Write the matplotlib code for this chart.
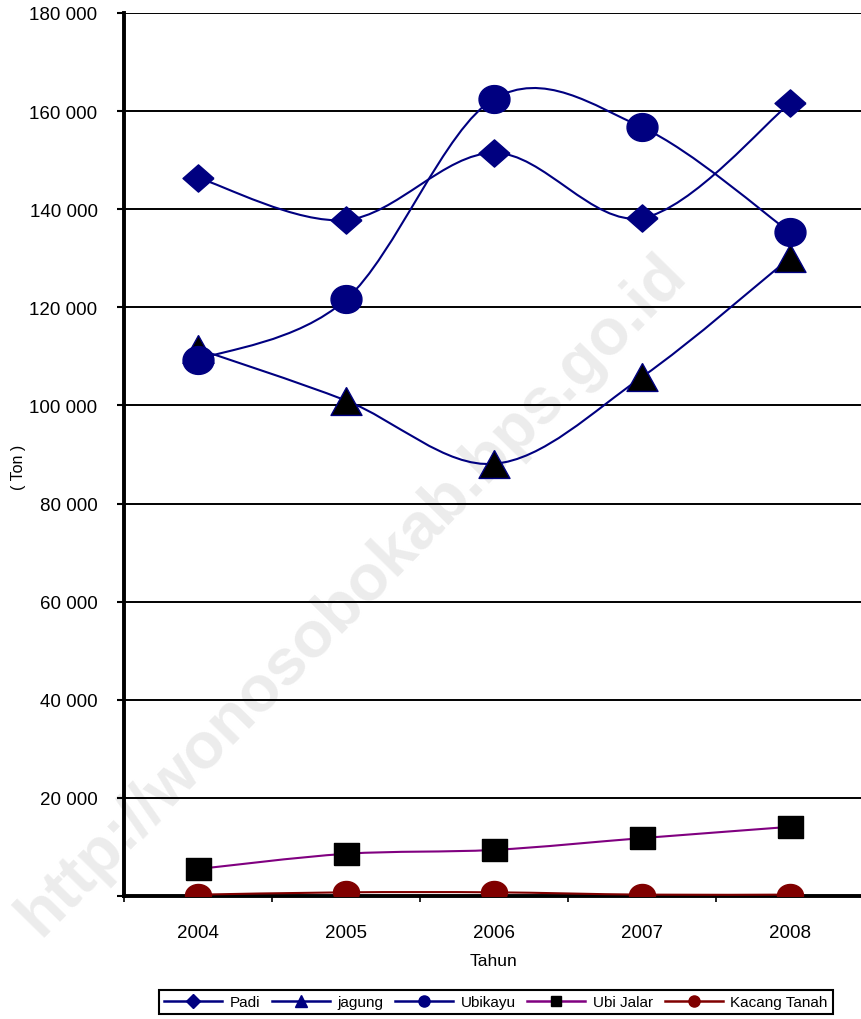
import numpy as np
import matplotlib
matplotlib.use('Agg')
import matplotlib.pyplot as plt
from matplotlib.path import Path
from matplotlib.patches import PathPatch
from matplotlib.lines import Line2D

plt.rcParams['font.family'] = ['Liberation Sans', 'DejaVu Sans']

# data
tahun = ['2004', '2005', '2006', '2007', '2008']
padi = [146400, 137800, 151500, 138200, 161600]
jagung = [111500, 101000, 88100, 105800, 130100]
ubikayu = [109300, 121600, 162500, 156700, 135300]
ubi_jalar = [5500, 8600, 9400, 11800, 14100]
kacang_tanah = [270, 750, 750, 280, 280]
yticks = [0, 20000, 40000, 60000, 80000, 100000, 120000, 140000, 160000, 180000]


def smooth_path(xs, ys):
    # excel style smoothed line (bezier through the points)
    p = np.column_stack([xs, ys]).astype(float)
    n = len(p)
    verts = [p[0]]
    codes = [Path.MOVETO]
    for i in range(n - 1):
        p0 = p[i - 1] if i > 0 else p[i]
        p3 = p[i + 2] if i + 2 < n else p[i + 1]
        c1 = p[i] + (p[i + 1] - p0) / 6.0
        c2 = p[i + 1] - (p3 - p[i]) / 6.0
        verts += [c1, c2, p[i + 1]]
        codes += [Path.CURVE4] * 3
    return Path(verts, codes)


t = np.linspace(0, 2 * np.pi, 40)
m_diamond = [(1, 0), (0, 0.88), (-1, 0), (0, -0.88), (1, 0)]
m_tri = [(0, 0.9), (-1, -0.9), (1, -0.9), (0, 0.9)]
m_square = [(-1, -0.88), (1, -0.88), (1, 0.88), (-1, 0.88), (-1, -0.88)]
m_circ = list(zip(np.cos(t), 0.9 * np.sin(t)))
m_ell = list(zip(np.cos(t), 0.85 * np.sin(t)))

navy = '#000080'
purple = '#800080'
maroon = '#800000'

fig = plt.figure(figsize=(8.61, 10.2), dpi=100)
fig.patch.set_facecolor('white')

# watermark
fig.text(352 / 861, 1 - 595 / 1020, 'http://wonosobokab.bps.go.id', rotation=45.6,
         fontsize=47, fontweight='bold', color='#ececec', ha='center', va='center',
         rotation_mode='anchor', zorder=-1)

ax = fig.add_axes([124 / 861, 1 - 897 / 1020, 740 / 861, 883 / 1020])
ax.patch.set_alpha(0)

x = np.arange(len(tahun))

series = [
    (padi, navy, m_diamond, 22.3, navy, navy),
    (jagung, navy, m_tri, 22.3, 'black', navy),
    (ubikayu, navy, m_circ, 22.3, navy, navy),
    (ubi_jalar, purple, m_square, 18, 'black', 'black'),
    (kacang_tanah, maroon, m_ell, 18.7, maroon, maroon),
]
z = 3
for vals, col, mk, ms, fc, ec in series:
    ax.add_patch(PathPatch(smooth_path(x, vals), facecolor='none', edgecolor=col,
                           lw=1.5, zorder=z))
    ax.plot(x, vals, linestyle='none', marker=mk, markersize=ms, markerfacecolor=fc,
            markeredgecolor=ec, markeredgewidth=1, zorder=z + 1)
    z += 2

ax.set_xlim(-0.5, len(tahun) - 0.5)
ax.set_ylim(0, 180000)

ax.set_yticks(yticks)
ax.set_yticklabels(['' if v == 0 else '{:,}'.format(v).replace(',', ' ') for v in yticks])
ax.yaxis.grid(True, color='black', lw=1.4)
ax.set_axisbelow(True)
ax.tick_params(axis='y', length=5, width=1.5, pad=14, labelsize=13.5, direction='out')

ax.set_xticks(np.arange(len(tahun) + 1) - 0.5)
ax.set_xticklabels([])
ax.set_xticks(x, minor=True)
ax.set_xticklabels(tahun, minor=True)
ax.tick_params(axis='x', which='major', length=4, width=1.2, direction='out')
ax.tick_params(axis='x', which='minor', length=0, pad=20, labelsize=13.5)

for s in ['top', 'right']:
    ax.spines[s].set_visible(False)
for s in ['left', 'bottom']:
    ax.spines[s].set_linewidth(2.8)

ax.set_xlabel('Tahun', fontsize=12.5, labelpad=9)
fig.text(18 / 861, 1 - 467 / 1020, '( Ton )', rotation=90, fontsize=11.5,
         ha='center', va='center')

handles = [
    Line2D([], [], color=navy, lw=1.8, marker='D', ms=7, mfc=navy, mec=navy),
    Line2D([], [], color=navy, lw=1.8, marker='^', ms=8, mfc=navy, mec=navy),
    Line2D([], [], color=navy, lw=1.8, marker='o', ms=8, mfc=navy, mec=navy),
    Line2D([], [], color=purple, lw=1.8, marker='s', ms=7, mfc='black', mec='black'),
    Line2D([], [], color=maroon, lw=1.8, marker='o', ms=8, mfc=maroon, mec=maroon),
]
labels = ['Padi', 'jagung', 'Ubikayu', 'Ubi Jalar', 'Kacang Tanah']
leg = fig.legend(handles, labels, loc='center', bbox_to_anchor=(496 / 861, 1 - 1003 / 1020),
                 ncol=5, fontsize=11, handlelength=3.8, handletextpad=0.5,
                 columnspacing=0.75, fancybox=False, framealpha=1, borderpad=0.35,
                 borderaxespad=0)
leg.get_frame().set_edgecolor('black')
leg.get_frame().set_linewidth(1.5)

fig.savefig('out.png', dpi=100)
